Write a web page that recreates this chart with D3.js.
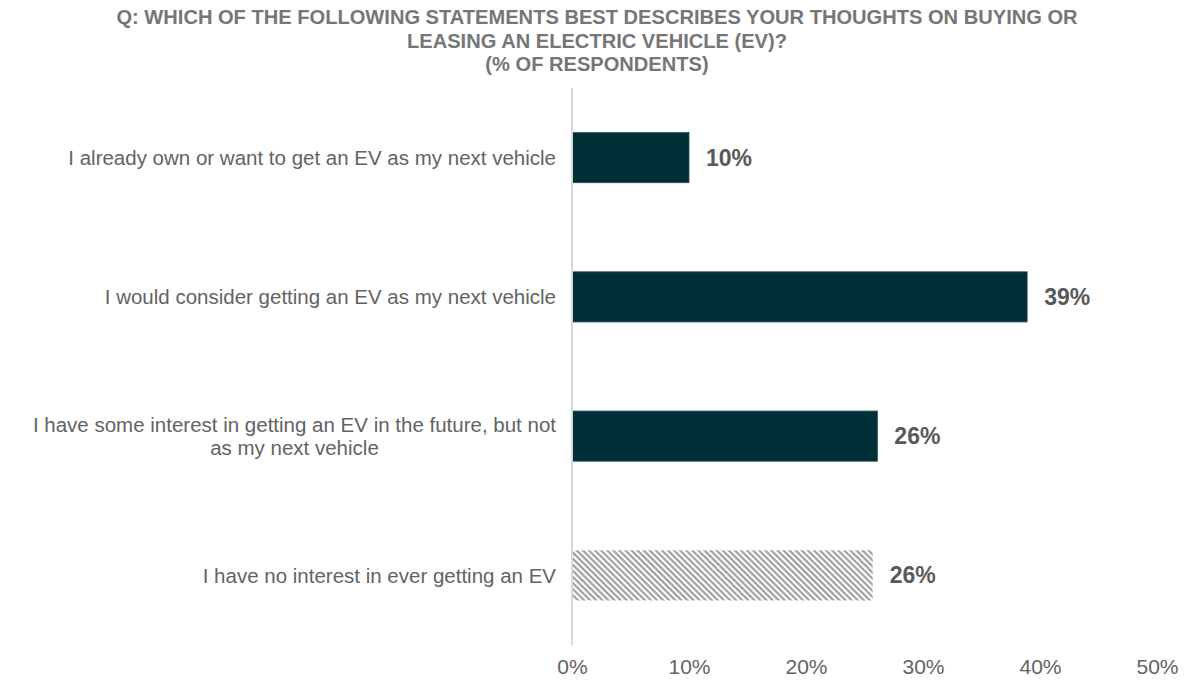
<!DOCTYPE html>
<html>
<head>
<meta charset="utf-8">
<script src="https://cdn.jsdelivr.net/npm/d3@7"></script>
<style>
  body { margin: 0; background: #fff; }
  text { font-family: "Liberation Sans", Arial, sans-serif; }
</style>
</head>
<body>
<svg width="1191" height="681"></svg>
<script>
// Chart data
const categories = [
  "I already own or want to get an EV as my next vehicle",
  "I would consider getting an EV as my next vehicle",
  "I have some interest in getting an EV in the future, but not as my next vehicle",
  "I have no interest in ever getting an EV"
];
const values = [10.0, 38.9, 26.1, 25.7];
const valueLabels = ["10%", "39%", "26%", "26%"];
const hatched = [false, false, false, true];
const xTicks = [0, 10, 20, 30, 40, 50];
const titleLines = [
  "Q: WHICH OF THE FOLLOWING STATEMENTS BEST DESCRIBES YOUR THOUGHTS ON BUYING OR",
  "LEASING AN ELECTRIC VEHICLE (EV)?",
  "(% OF RESPONDENTS)"
];

const svg = d3.select("svg"),
    margin = { top: 88, right: 34, bottom: 36, left: 572 },
    width = +svg.attr("width") - margin.left - margin.right,
    height = +svg.attr("height") - margin.top - margin.bottom;

// Hatch pattern for the last bar (thin diagonal stripes)
const defs = svg.append("defs");
const pattern = defs.append("pattern")
  .attr("id", "hatch")
  .attr("patternUnits", "userSpaceOnUse")
  .attr("width", 4.3)
  .attr("height", 4.3)
  .attr("patternTransform", "rotate(45)");
pattern.append("rect").attr("width", 4.3).attr("height", 4.3).attr("fill", "#fff");
pattern.append("rect").attr("width", 4.3).attr("height", 2.2).attr("fill", "#a0a0a0");

// Title
svg.append("g").selectAll("text")
  .data(titleLines)
  .join("text")
  .attr("x", 597)
  .attr("y", (d, i) => 24 + i * 23.5)
  .attr("text-anchor", "middle")
  .attr("font-size", "20.1px")
  .attr("font-weight", "bold")
  .attr("fill", "#767676")
  .text(d => d);

const g = svg.append("g").attr("transform", `translate(${margin.left},${margin.top})`);

const x = d3.scaleLinear().domain([0, 50]).range([0, 585]);
const y = d3.scaleBand().domain(categories).range([0, height]).paddingInner(0.64).paddingOuter(0.32);

// Bars
g.selectAll(".bar")
  .data(categories)
  .join("rect")
  .attr("class", "bar")
  .attr("x", x(0))
  .attr("y", d => y(d))
  .attr("width", (d, i) => x(values[i]) - x(0))
  .attr("height", y.bandwidth())
  .attr("fill", (d, i) => hatched[i] ? "url(#hatch)" : "#002f38")
  .attr("stroke", (d, i) => hatched[i] ? "none" : "#26505a")
  .attr("stroke-width", 0.8);

// Value labels
g.selectAll(".val")
  .data(categories)
  .join("text")
  .attr("class", "val")
  .attr("x", (d, i) => x(values[i]) + 17)
  .attr("y", d => y(d) + y.bandwidth() / 2 + 8)
  .attr("font-size", "23px")
  .attr("font-weight", "bold")
  .attr("fill", "#595959")
  .text((d, i) => valueLabels[i]);

// Category labels (wrapped)
const wrapWidth = 530;
g.selectAll(".cat")
  .data(categories)
  .join("text")
  .attr("class", "cat")
  .attr("font-size", "20.5px")
  .attr("fill", "#636363")
  .attr("text-anchor", "middle")
  .each(function(d) {
    const t = d3.select(this);
    const words = d.split(" ");
    const lines = [];
    let line = [];
    const tmp = t.append("tspan");
    words.forEach(w => {
      line.push(w);
      tmp.text(line.join(" "));
      if (tmp.node().getComputedTextLength() > wrapWidth && line.length > 1) {
        line.pop();
        lines.push(line.join(" "));
        line = [w];
      }
    });
    lines.push(line.join(" "));
    tmp.remove();
    const cy = y(d) + y.bandwidth() / 2;
    const lh = 22.5;
    lines.forEach((l, i) => {
      const tw = t.append("tspan").text(l);
      tw.attr("y", cy + 7.5 - (lines.length - 1) * lh / 2 + i * lh);
    });
    // center all lines on the widest one, right edge near the axis
    const widths = [];
    t.selectAll("tspan").each(function() { widths.push(this.getComputedTextLength()); });
    const maxW = d3.max(widths);
    t.selectAll("tspan").attr("x", -16 - maxW / 2);
  });

// Vertical axis line
g.append("line")
  .attr("x1", x(0)).attr("x2", x(0))
  .attr("y1", 0).attr("y2", height)
  .attr("stroke", "#d9d9d9")
  .attr("stroke-width", 2);

// X axis tick labels
const xAxis = g.append("g").attr("transform", `translate(0,${height})`)
  .call(d3.axisBottom(x).tickValues(xTicks).tickFormat(d => d + "%").tickSize(0).tickPadding(14));
xAxis.select(".domain").remove();
xAxis.selectAll("text")
  .attr("font-size", "21px")
  .attr("fill", "#636363")
  .attr("font-family", "'Liberation Sans', Arial, sans-serif");
</script>
</body>
</html>
